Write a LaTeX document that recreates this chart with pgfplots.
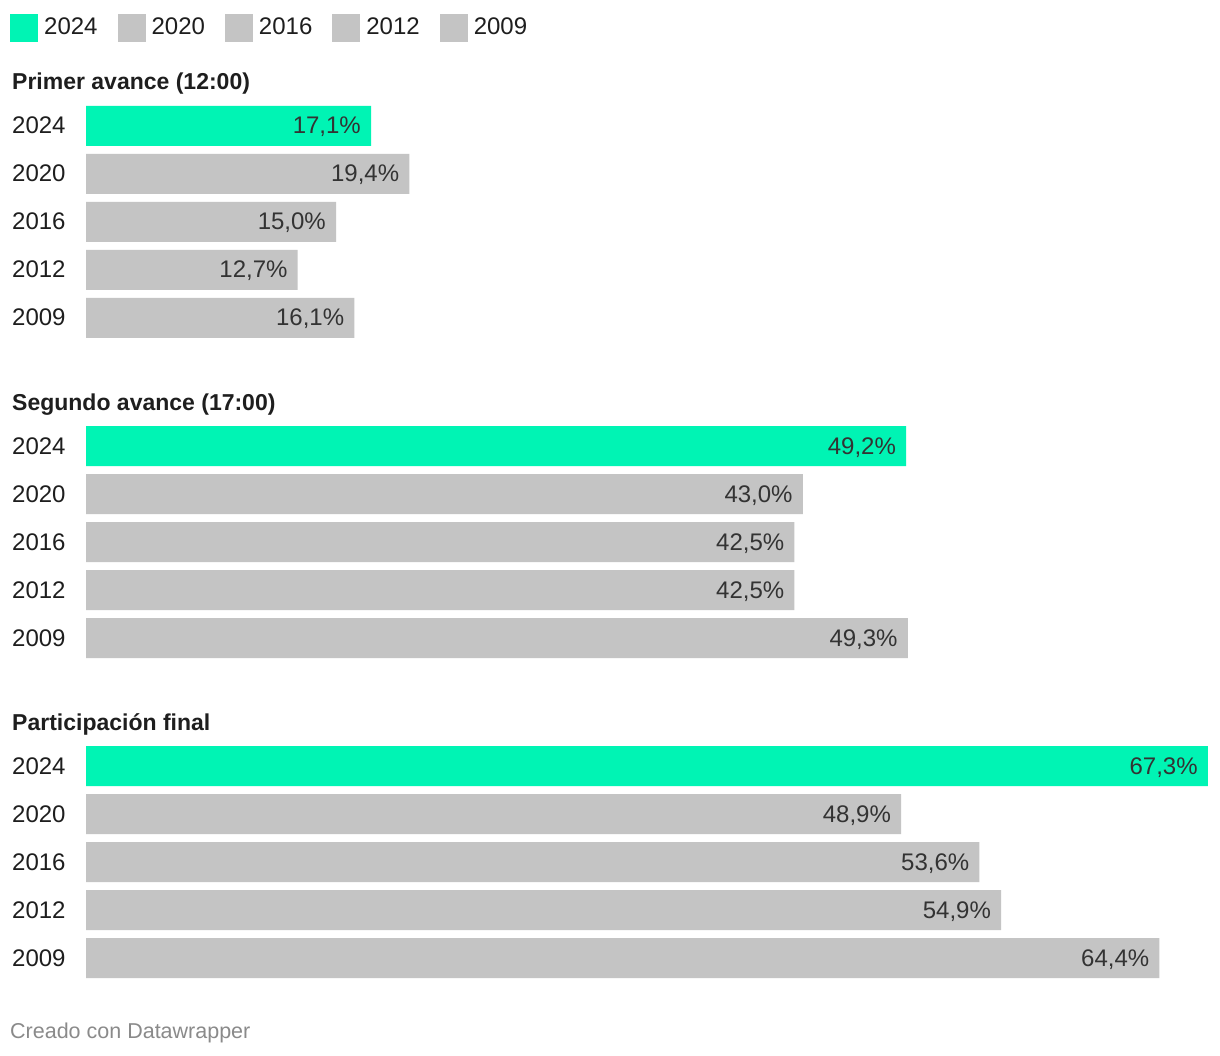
\documentclass[border=0pt]{standalone}
\usepackage{pgfplots}
\pgfplotsset{compat=1.18}
\usepackage{fontspec}
\setmainfont{Liberation Sans}
\definecolor{dwgreen}{HTML}{00F4B4}
\definecolor{dwgray}{HTML}{C4C4C4}
\definecolor{valtext}{HTML}{333333}
\definecolor{labtext}{HTML}{1E1E1E}
\definecolor{foot}{HTML}{8A8A8A}

% bar y positions are pixel rows of the reference (negated)
\pgfplotstableread{
x y
17.1 -126
49.2 -446
67.3 -766
}\current
\pgfplotstableread{
x y
19.4 -174
15.0 -222
12.7 -270
16.1 -318
43.0 -494
42.5 -542
42.5 -590
49.3 -638
48.9 -814
53.6 -862
54.9 -910
64.4 -958
}\past

\begin{document}
\fontsize{24pt}{28pt}\selectfont
\begin{tikzpicture}
\path[use as bounding box, fill=white] (0pt,0pt) rectangle (1220pt,-1056pt);
\begin{axis}[
  at={(86pt,0pt)}, anchor=north west,
  scale only axis, width=1134pt, height=1056pt,
  xmin=0, xmax=68.03, ymin=-1056, ymax=0,
  axis lines=none, clip=false,
  xbar, bar width=40, bar shift=0pt,
  /pgf/number format/assume math mode=true,
  nodes near coords={\pgfmathprintnumber[fixed,fixed zerofill,precision=1,use comma]{\pgfplotspointmeta}\%},
  every node near coord/.append style={anchor=base east, xshift=-10pt, yshift=-8pt, inner sep=0pt,
    text=valtext, font=\fontsize{24pt}{28pt}\selectfont},
  legend columns=5,
  legend style={at={(axis cs:-4.56,-14)}, anchor=north west, draw=none, fill=none,
    inner sep=0pt, column sep=0pt,
    font=\fontsize{24pt}{28pt}\selectfont,
    nodes={inner sep=0pt, anchor=west, text=labtext}},
  legend image code/.code={\fill[#1] (0pt,-14pt) rectangle (28pt,14pt);},
  /tikz/every even column/.append style={column sep=20pt},
  legend cell align=left,
]
\addplot[draw=none, fill=dwgreen] table[x=x, y=y] {\current};
\addplot[draw=none, fill=dwgray] table[x=x, y=y] {\past};
\legend{\hspace{6pt}2024,\hspace{6pt}2020}
\addlegendimage{draw=none, fill=dwgray}
\addlegendentry{\hspace{6pt}2016}
\addlegendimage{draw=none, fill=dwgray}
\addlegendentry{\hspace{6pt}2012}
\addlegendimage{draw=none, fill=dwgray}
\addlegendentry{\hspace{6pt}2009}
\end{axis}
\foreach \g/\t in {0/{Primer avance (12:00)}, 320/{Segundo avance (17:00)}, 640/{Participación final}} {
  \node[anchor=base west, inner sep=0pt, text=labtext, font=\bfseries\fontsize{23pt}{27pt}\selectfont] at (12pt,{-90pt-\g pt}) {\t};
  \foreach \yr [count=\i from 0] in {2024,2020,2016,2012,2009} {
    \node[anchor=base west, inner sep=0pt, text=labtext] at (12pt,{-134pt-\g pt-48pt*\i}) {\yr};
  }
}
\node[anchor=base west, inner sep=0pt, text=foot, font=\fontsize{21.5pt}{25pt}\selectfont] at (10pt,-1038pt) {Creado con Datawrapper};
\end{tikzpicture}
\end{document}
